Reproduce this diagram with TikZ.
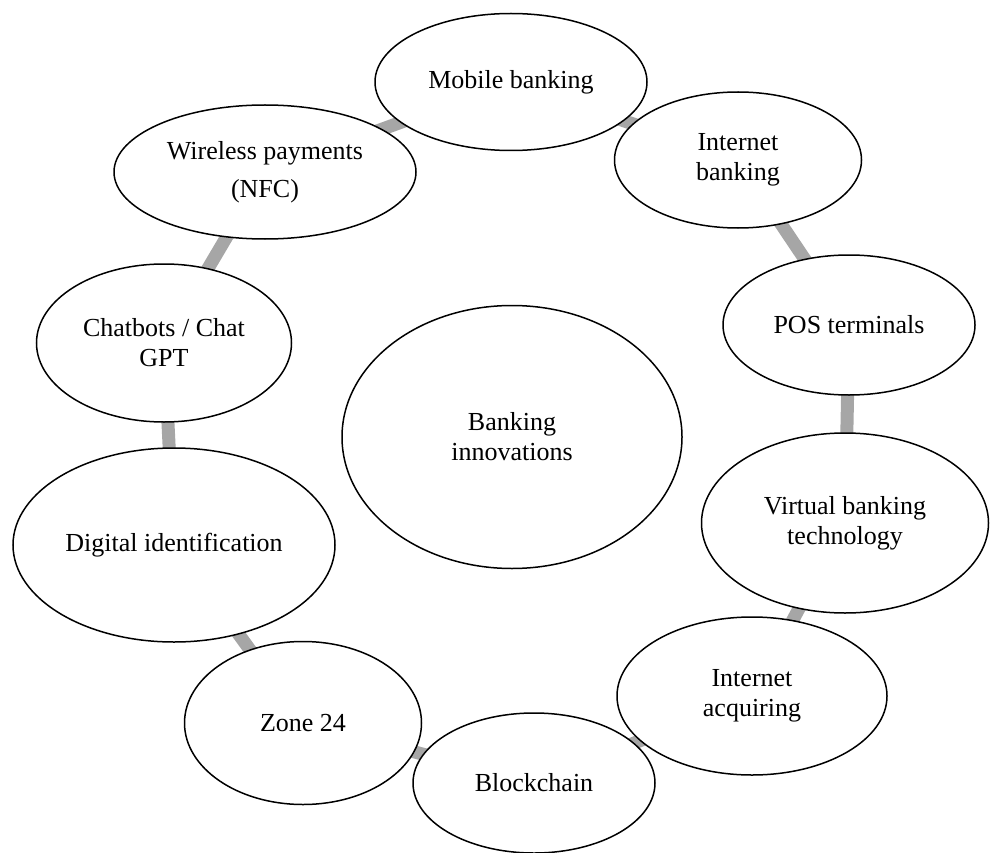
\documentclass[tikz,border=0pt]{standalone}
\usepackage{fontspec}
\setmainfont{Liberation Serif}
\usetikzlibrary{shapes.geometric,backgrounds}
\begin{document}
\begin{tikzpicture}[x=1pt,y=-1pt,
			oval/.style={
				ellipse,
				draw=black,
				line width=1.5pt,
				fill=white,
				inner sep=0pt,
				align=center,
				font=\fontsize{26}{30}\selectfont
			},
			link/.style={
				line width=13pt,
				draw=black!35
			}
			]
			\useasboundingbox (0,0) rectangle (990,853);
			%---------------- CENTRE ----------------
			\node[oval,minimum width=340,minimum height=263] (bank) at (512,437) {Banking\\innovations};
			%---------------- RING ----------------
			\node[oval,minimum width=272,minimum height=137] (mob) at (511,82) {Mobile banking};
			\node[oval,minimum width=247,minimum height=136] (inb) at (738,160) {Internet\\banking};
			\node[oval,minimum width=252,minimum height=140] (pos) at (849,325) {POS terminals};
			\node[oval,minimum width=287,minimum height=180] (virt) at (845,523) {Virtual banking\\technology};
			\node[oval,minimum width=270,minimum height=158] (acq) at (752,696) {Internet\\acquiring};
			\node[oval,minimum width=242,minimum height=140] (blk) at (534,783) {Blockchain};
			\node[oval,minimum width=237,minimum height=163] (zone) at (303,723) {Zone 24};
			\node[oval,minimum width=322,minimum height=194] (dig) at (174,545) {Digital identification};
			\node[oval,minimum width=255,minimum height=158] (chat) at (164,343) {Chatbots / Chat\\GPT};
			\node[oval,minimum width=302,minimum height=134] (wir) at (265,172) {Wireless payments\\[8pt](NFC)};
			%---------------- LINKS ----------------
			\begin{scope}[on background layer]
				\foreach \a/\b in {mob/inb,inb/pos,pos/virt,virt/acq,acq/blk,blk/zone,zone/dig,dig/chat,chat/wir,wir/mob}
				\draw[link] (\a.center) -- (\b.center);
			\end{scope}
		\end{tikzpicture}
\end{document}
